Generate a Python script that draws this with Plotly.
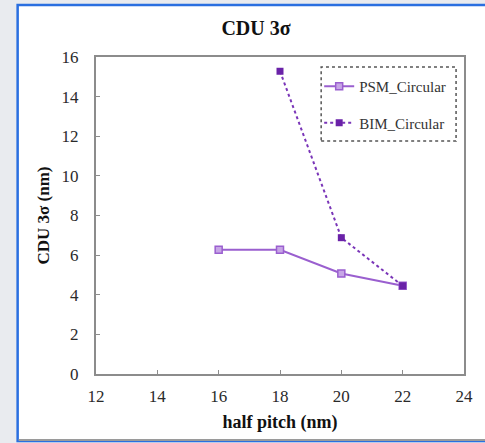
import plotly.graph_objects as go

half_pitch_psm = [16, 18, 20, 22]
cdu_psm = [6.27, 6.27, 5.07, 4.45]
half_pitch_bim = [18, 20, 22]
cdu_bim = [15.28, 6.88, 4.45]
x_ticks = [12, 14, 16, 18, 20, 22, 24]
y_ticks = [0, 2, 4, 6, 8, 10, 12, 14, 16]

W, H = 485, 443
L, R, T, B = 96, 18, 57, 69
pw, ph = W - L - R, H - T - B

def px(x):
    return (x - L) / pw

def py(y):
    return (H - B - y) / ph

FONT = "Liberation Serif"

fig = go.Figure()
fig.add_trace(go.Scatter(
    x=half_pitch_psm, y=cdu_psm, name="PSM_Circular", mode="lines+markers",
    legendgroup="a",
    line=dict(color="#9a5fcf", width=2),
    marker=dict(symbol="square", size=7, color="#c7a6e6",
                line=dict(color="#9a5fcf", width=1.5)),
))
fig.add_trace(go.Scatter(
    x=half_pitch_bim, y=cdu_bim, name="BIM_Circular", mode="lines+markers",
    legendgroup="b",
    line=dict(color="#7a35b8", width=2, dash="dot"),
    marker=dict(symbol="square", size=7, color="#6a22a8"),
))

# outer frame (white panel with blue border)
fig.add_shape(type="rect", xref="paper", yref="paper", layer="below",
              x0=px(17), x1=px(490), y0=py(441), y1=py(5),
              fillcolor="white", line=dict(color="#2a6fe0", width=2.5))
fig.add_shape(type="line", xref="paper", yref="paper", layer="below",
              x0=px(18), x1=px(490), y0=py(440), y1=py(440),
              line=dict(color="#9a9a9a", width=2))

fig.update_layout(
    width=W, height=H,
    margin=dict(l=L, r=R, t=T, b=B),
    paper_bgcolor="#e9ebef", plot_bgcolor="white",
    font=dict(family=FONT, color="#222222", size=15),
    title=dict(text="<b>CDU 3σ</b>", x=256 / W, xanchor="center",
               xref="container", yref="container",
               y=1 - 28 / H, yanchor="middle",
               font=dict(family=FONT, size=20, color="#111111")),
    showlegend=True,
    legend=dict(x=px(321), y=py(70), xanchor="left", yanchor="top",
                bgcolor="rgba(0,0,0,0)", borderwidth=0,
                font=dict(family=FONT, size=15, color="#333333"),
                tracegroupgap=14, itemwidth=30),
    xaxis=dict(range=[12, 24], tickvals=x_ticks, ticks="inside", ticklen=4,
               showgrid=False, zeroline=False, showline=True, mirror=True,
               linecolor="#8c8c8c", linewidth=2, tickcolor="#8c8c8c",
               ticklabelstandoff=6,
               tickfont=dict(size=17, color="#2a2a2a"),
               title=dict(text="<b>half pitch (nm)</b>", standoff=10,
                          font=dict(size=18, color="#111111"))),
    yaxis=dict(range=[0, 16], tickvals=y_ticks, ticks="inside", ticklen=4,
               showgrid=False, zeroline=False, showline=True, mirror=True,
               linecolor="#8c8c8c", linewidth=2, tickcolor="#8c8c8c",
               ticklabelstandoff=12,
               tickfont=dict(size=17, color="#2a2a2a"),
               title=dict(text="<b>CDU 3σ (nm)</b>", standoff=8,
                          font=dict(size=17, color="#111111"))),
)
# dotted legend border
fig.add_shape(type="rect", xref="paper", yref="paper",
              x0=px(323), x1=px(459), y0=py(141), y1=py(67),
              line=dict(color="#555555", width=1.5, dash="dot"))

fig.write_html("out.html",
               config={"displayModeBar": False},
               post_script="document.body.style.margin='0';"
                           "document.body.style.background='#e9ebef';")
